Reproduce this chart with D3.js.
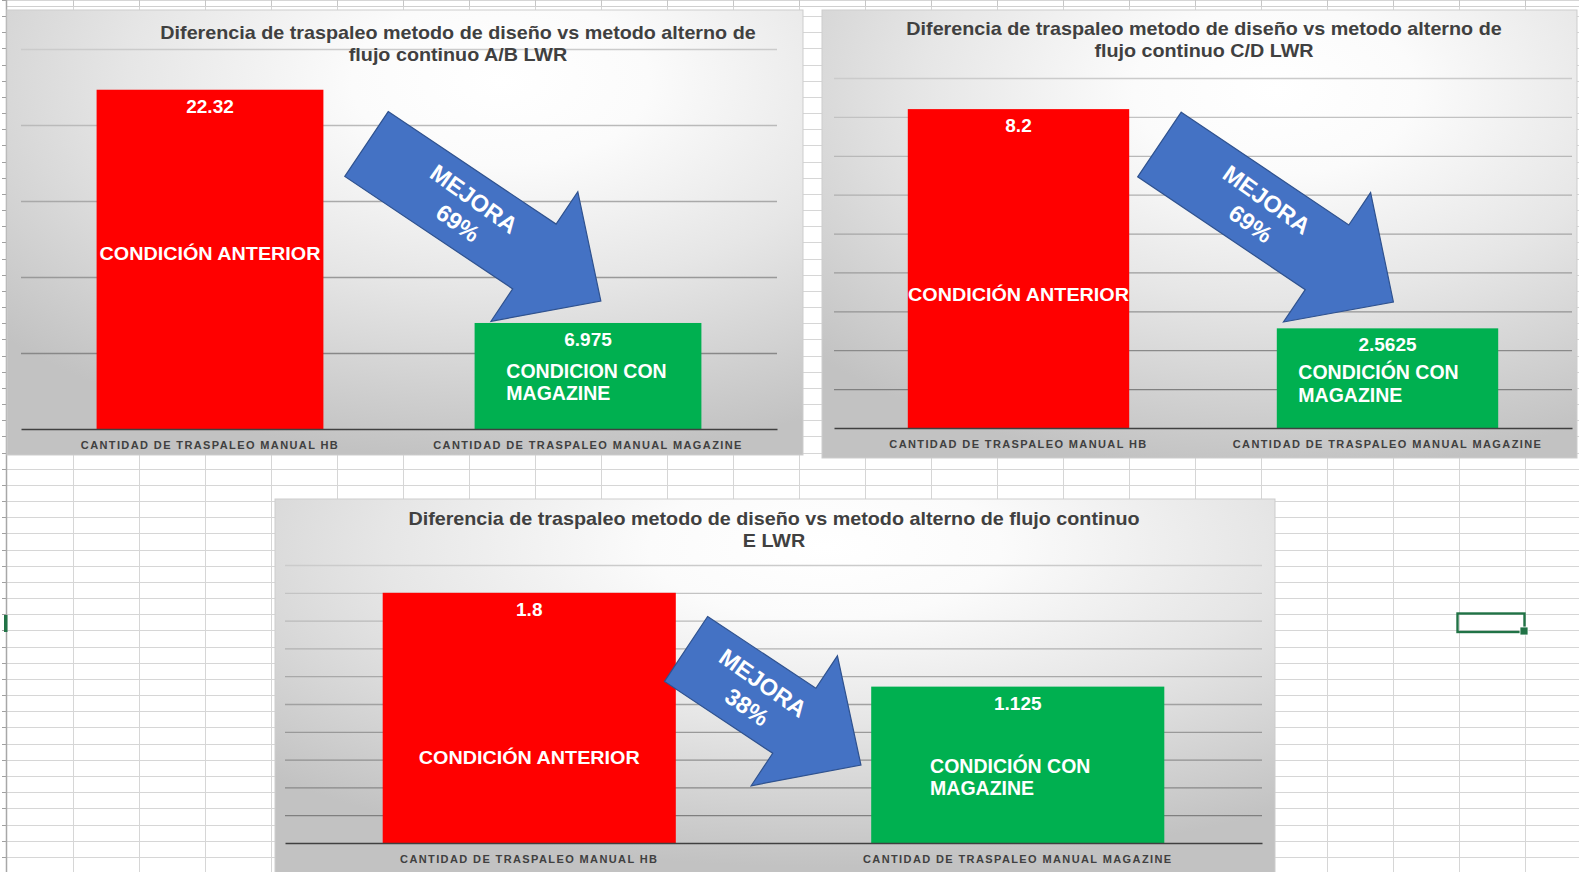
<!DOCTYPE html>
<html><head><meta charset="utf-8">
<script src="https://cdn.jsdelivr.net/npm/d3@7"></script>
<style>
html,body{margin:0;padding:0;background:#fff;overflow:hidden}
svg{display:block}
text{font-family:"Liberation Sans",Arial,Helvetica,sans-serif}
</style>
</head><body>
<svg id="c" width="1579" height="872"></svg>
<script>
// ---------------- DATA ----------------
const categories = ["CANTIDAD DE TRASPALEO MANUAL HB", "CANTIDAD DE TRASPALEO MANUAL MAGAZINE"];
const titleAB = ["Diferencia de traspaleo metodo de diseño vs metodo alterno de", "flujo continuo A/B LWR"];
const titleCD = ["Diferencia de traspaleo metodo de diseño vs metodo alterno de", "flujo continuo C/D LWR"];
const titleE  = ["Diferencia de traspaleo metodo de diseño vs metodo alterno de flujo continuo", "E LWR"];
const valuesAB = [22.32, 6.975];
const valuesCD = [8.2, 2.5625];
const valuesE  = [1.8, 1.125];
const nameBefore  = ["CONDICIÓN ANTERIOR"];
const nameAfterAB = ["CONDICION CON", "MAGAZINE"];
const nameAfter   = ["CONDICIÓN CON", "MAGAZINE"];
const improvementWord = "MEJORA";
const improvements = ["69%", "69%", "38%"];
const yMaxes = [25, 9, 2];
const yTickSteps = [5, 1, 0.2];

const charts = [
  {title: titleAB, values: valuesAB, after: nameAfterAB, improvement: improvements[0], yMax: yMaxes[0], step: yTickSteps[0]},
  {title: titleCD, values: valuesCD, after: nameAfter,   improvement: improvements[1], yMax: yMaxes[1], step: yTickSteps[1]},
  {title: titleE,  values: valuesE,  after: nameAfter,   improvement: improvements[2], yMax: yMaxes[2], step: yTickSteps[2]}
];

// ---------------- LAYOUT (positions / styles) ----------------
const layout = [
  {box:[7,10,796,445],  plot:[21,777,49,429],  grad:[0.62,0.16,0.85], titleX:458,  titleY:[33,55],
   nameFrac:0.484, afterDx:-1.5, afterDy:-5, arrowFrom:[0.414,18.75], arrowTo:[1.034,8.42], textU:0.425},
  {box:[822,10,755,448], plot:[834,1572,78,428], grad:[0.6,0.18,0.85],  titleX:1204, titleY:[29,51],
   nameFrac:0.58, afterDx:-9, afterDy:-6, arrowFrom:[0.382,7.29], arrowTo:[1.016,3.24], textU:0.425},
  {box:[275,499,1000,400], plot:[285,1262,565,843], grad:[0.55,0.12,0.8], titleX:774, titleY:[519,541],
   nameFrac:0.66, afterDx:-7.5, afterDy:1, arrowFrom:[0.321,1.396], arrowTo:[0.679,0.561], textU:0.395}
];

const W = 1579, H = 872;
const svg = d3.select("#c");
const defs = svg.append("defs");

// ---------------- SPREADSHEET BACKGROUND ----------------
const sheet = svg.append("g");
sheet.append("rect").attr("width", W).attr("height", H).attr("fill", "#ffffff");
const colW = 66, col0 = 6.7, rowH = 16.17, row0 = 16;
const colXs = d3.range(col0 + colW, W, colW).map(v => Math.round(v) + 0.5);
const rowYs = d3.range(row0 - rowH, H + rowH, rowH).map(v => Math.round(v) + 0.5);
sheet.selectAll("line.row").data(rowYs).join("line").attr("class","row")
  .attr("x1", 7).attr("x2", W).attr("y1", d => d).attr("y2", d => d)
  .attr("stroke", "#d6d6d6").attr("stroke-width", 1);
sheet.selectAll("line.col").data(colXs).join("line").attr("class","col")
  .attr("x1", d => d).attr("x2", d => d).attr("y1", 6).attr("y2", H)
  .attr("stroke", "#d6d6d6").attr("stroke-width", 1);
sheet.selectAll("line.ctick").data(colXs).join("line").attr("class","ctick")
  .attr("x1", d => d).attr("x2", d => d).attr("y1", 0).attr("y2", 6)
  .attr("stroke", "#c6c6c6");
sheet.append("line").attr("x1", 6).attr("x2", W).attr("y1", 6.5).attr("y2", 6.5).attr("stroke", "#cfcfcf");
sheet.selectAll("line.rtick").data(rowYs).join("line").attr("class","rtick")
  .attr("x1", 2).attr("x2", 6).attr("y1", d => d).attr("y2", d => d).attr("stroke", "#a0a0a0");
sheet.append("line").attr("x1", 6.5).attr("x2", 6.5).attr("y1", 0).attr("y2", H).attr("stroke", "#a8a8a8").attr("stroke-width", 1.5);
sheet.append("rect").attr("x", 4).attr("y", 615).attr("width", 3.5).attr("height", 17).attr("fill", "#217346");
sheet.append("rect").attr("x", 1457.5).attr("y", 613.5).attr("width", 67).attr("height", 18.5)
  .attr("fill", "none").attr("stroke", "#217346").attr("stroke-width", 2.4);
sheet.append("rect").attr("x", 1520).attr("y", 627).attr("width", 8).attr("height", 8)
  .attr("fill", "#217346").attr("stroke", "#ffffff").attr("stroke-width", 0.8);

// ---------------- HELPERS ----------------
const gridColor = d3.interpolateRgb("#cbcbcb", "#777777");
const FONT_TITLE = 18;

function arrowPath(p0, p1, shaftW, headW, headL) {
  const dx = p1[0] - p0[0], dy = p1[1] - p0[1], L = Math.hypot(dx, dy);
  const ux = dx / L, uy = dy / L, vx = -uy, vy = ux;
  const pt = (u, v) => [p0[0] + ux * u + vx * v, p0[1] + uy * u + vy * v];
  const b = L - headL;
  const pts = [pt(0, -shaftW/2), pt(b, -shaftW/2), pt(b, -headW/2), pt(L, 0),
               pt(b, headW/2), pt(b, shaftW/2), pt(0, shaftW/2)];
  return {d: d3.line()(pts) + "Z", pt, L, angle: Math.atan2(dy, dx) * 180 / Math.PI};
}

let titleScale = 1;
{
  const t = svg.append("text").attr("font-size", FONT_TITLE).attr("font-weight", "bold").text(titleAB[0]);
  titleScale = 596 / t.node().getComputedTextLength();
  t.remove();
}
const CAT_FONT = 11;
let catSpacing = 0;
{
  const t = svg.append("text").attr("font-size", CAT_FONT).attr("font-weight", "bold").text(categories[0]);
  const w = t.node().getComputedTextLength();
  catSpacing = (257 - w) / (categories[0].length - 1);
  t.remove();
}

// ---------------- CHARTS ----------------
charts.forEach((c, i) => {
  const L = layout[i];
  const g = svg.append("g");
  const gid = "bg" + i;
  const rg = defs.append("radialGradient").attr("id", gid)
    .attr("cx", L.grad[0]).attr("cy", L.grad[1]).attr("r", L.grad[2])
    .attr("fx", L.grad[0]).attr("fy", L.grad[1]);
  [[0, "#ffffff"], [0.22, "#fbfbfb"], [0.55, "#e6e6e6"], [1, "#c2c2c2"]].forEach(s =>
    rg.append("stop").attr("offset", s[0]).attr("stop-color", s[1]));

  g.append("rect").attr("x", L.box[0]).attr("y", L.box[1]).attr("width", L.box[2]).attr("height", L.box[3])
    .attr("fill", `url(#${gid})`).attr("stroke", "#cdcdcd").attr("stroke-width", 1);

  const x = d3.scaleBand().domain(categories).range([L.plot[0], L.plot[1]]).paddingInner(0.4).paddingOuter(0.2);
  const y = d3.scaleLinear().domain([0, c.yMax]).range([L.plot[3], L.plot[2]]);
  const ticks = d3.range(1, Math.round(c.yMax / c.step) + 1).map(k => +(k * c.step).toFixed(6));

  const ga = g.append("g").attr("transform", `translate(${L.plot[0]},0)`)
    .call(d3.axisLeft(y).tickValues(ticks).tickSize(-(L.plot[1] - L.plot[0])).tickFormat(""));
  ga.select(".domain").remove();
  ga.selectAll(".tick line")
    .attr("stroke", d => gridColor((y(d) - L.plot[2]) / (L.plot[3] - L.plot[2])))
    .attr("stroke-width", 1.3);

  const data = categories.map((cat, k) => ({cat, v: c.values[k], k}));
  const colors = ["#ff0000", "#00b050"];
  g.selectAll("rect.bar").data(data).join("rect").attr("class", "bar")
    .attr("x", d => x(d.cat)).attr("width", x.bandwidth())
    .attr("y", d => y(d.v)).attr("height", d => y(0) - y(d.v))
    .attr("fill", (d) => colors[d.k]);

  g.selectAll("text.val").data(data).join("text").attr("class", "val")
    .attr("x", d => x(d.cat) + x.bandwidth() / 2).attr("y", d => y(d.v) + 16.5)
    .attr("text-anchor", "middle").attr("dominant-baseline", "central")
    .attr("fill", "#ffffff").attr("font-weight", "bold").attr("font-size", 19)
    .text(d => String(d.v));

  const d0 = data[0];
  g.append("text")
    .attr("x", x(d0.cat) + x.bandwidth() / 2)
    .attr("y", y(d0.v) + (y(0) - y(d0.v)) * L.nameFrac)
    .attr("text-anchor", "middle").attr("dominant-baseline", "central")
    .attr("fill", "#ffffff").attr("font-weight", "bold").attr("font-size", 19)
    .attr("textLength", 221).attr("lengthAdjust", "spacingAndGlyphs")
    .text(nameBefore[0]);

  const d1 = data[1];
  const mid1 = (y(d1.v) + y(0)) / 2;
  const cx1 = x(d1.cat) + x.bandwidth() / 2;
  const aft = g.append("g");
  aft.selectAll("text").data(c.after).join("text")
    .attr("y", (t, k) => mid1 + L.afterDy + k * 22.5)
    .attr("dominant-baseline", "central")
    .attr("fill", "#ffffff").attr("font-weight", "bold").attr("font-size", 19.5)
    .text(t => t);
  const w0 = aft.select("text").node().getComputedTextLength();
  aft.selectAll("text").attr("x", cx1 - w0 / 2 + L.afterDx);

  const xa = g.append("g").attr("transform", `translate(0,${L.plot[3]})`)
    .call(d3.axisBottom(x).tickSize(0).tickSizeOuter(0).tickPadding(12));
  xa.select(".domain").attr("stroke", "#404040").attr("stroke-width", 1.6);
  xa.selectAll(".tick text").attr("font-family", "Liberation Sans, Arial, sans-serif")
    .attr("font-size", CAT_FONT).attr("font-weight", "bold").attr("fill", "#404040")
    .attr("letter-spacing", catSpacing);

  g.selectAll("text.title").data(c.title).join("text").attr("class", "title")
    .attr("transform", (t, k) => `translate(${L.titleX},${L.titleY[k]}) scale(${titleScale},1)`)
    .attr("text-anchor", "middle").attr("dominant-baseline", "central")
    .attr("fill", "#404040").attr("font-weight", "bold").attr("font-size", FONT_TITLE)
    .text(t => t);

  const catPos = p => x(categories[0]) + x.bandwidth() / 2 + p * x.step();
  const a = arrowPath([catPos(L.arrowFrom[0]), y(L.arrowFrom[1])], [catPos(L.arrowTo[0]), y(L.arrowTo[1])], 78, 156, 80);
  g.append("path").attr("d", a.d).attr("fill", "#4472c4").attr("stroke", "#2f528f").attr("stroke-width", 1.2)
    .attr("stroke-linejoin", "miter");
  const lines = [improvementWord, c.improvement];
  g.selectAll("text.arr").data(lines).join("text").attr("class", "arr")
    .attr("transform", (t, k) => { const p = a.pt(a.L * L.textU, k === 0 ? -14 : 15); return `translate(${p[0]},${p[1]}) rotate(${a.angle + 1.5})`; })
    .attr("text-anchor", "middle").attr("dominant-baseline", "central")
    .attr("fill", "#ffffff").attr("font-weight", "bold").attr("font-size", 23.5)
    .text(t => t);
});
</script>
</body></html>
